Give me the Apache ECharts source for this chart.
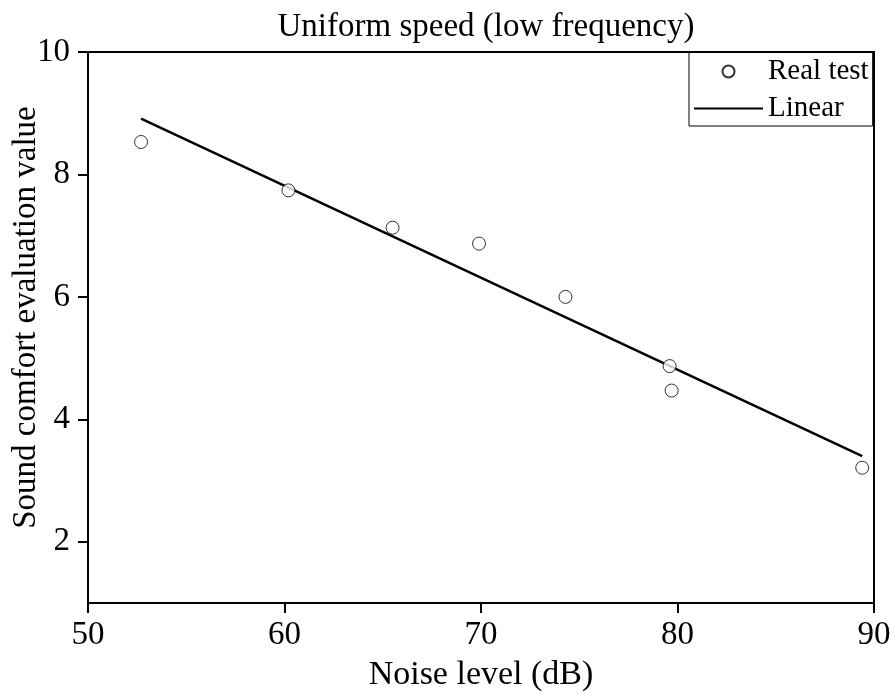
<!DOCTYPE html>
<html>
<head>
<meta charset="utf-8">
<script src="https://cdn.jsdelivr.net/npm/echarts@6/dist/echarts.min.js"></script>
<style>
  html, body { margin: 0; padding: 0; background: #fff; }
  #main { width: 893px; height: 695px; }
</style>
</head>
<body>
<div id="main"></div>
<script>
// measured points (noise level dB, comfort value)
var noiseLevel = [52.7, 60.2, 65.5, 69.9, 74.3, 79.6, 79.7, 89.4];
var comfortValue = [8.53, 7.74, 7.13, 6.87, 6.00, 4.87, 4.47, 3.21];
// fitted line end points
var fitX = [52.7, 89.4];
var fitY = [8.91, 3.40];
var yTicks = [2, 4, 6, 8, 10];

var serif = 'Liberation Serif';
var myChart = echarts.init(document.getElementById('main'));

var realData = noiseLevel.map(function (x, i) { return [x, comfortValue[i]]; });
var fitData = fitX.map(function (x, i) { return [x, fitY[i]]; });

var option = {
    animation: false,
    backgroundColor: '#fff',
    title: {
        text: 'Uniform speed (low frequency)',
        left: 481,
        textAlign: 'center',
        top: 6,
        textStyle: { fontFamily: serif, fontSize: 33, fontWeight: 'normal', color: '#000' }
    },
    legend: {
        orient: 'vertical',
        left: 689,
        top: 52,
        itemWidth: 69,
        itemHeight: 12,
        itemGap: 8,
        padding: [5, 4, 3, 4],
        borderColor: '#000',
        borderWidth: 1,
        textStyle: { fontFamily: serif, fontSize: 29, color: '#000', lineHeight: 29 },
        data: [
            { name: 'Real test' },
            { name: 'Linear', itemStyle: { opacity: 0 } }
        ]
    },
    grid: {
        left: 88,
        right: 19,
        top: 52,
        bottom: 92,
        outerBoundsMode: 'none',
        containLabel: false,
        show: true,
        borderColor: '#000',
        borderWidth: 2
    },
    xAxis: {
        type: 'value',
        min: 50,
        max: 90,
        interval: 10,
        name: 'Noise level (dB)',
        nameLocation: 'middle',
        nameGap: 55,
        nameMoveOverlap: false,
        nameTextStyle: { fontFamily: serif, fontSize: 34, color: '#000' },
        axisLine: { lineStyle: { color: '#000', width: 2 } },
        axisTick: { inside: false, length: 10, lineStyle: { color: '#000', width: 2 } },
        axisLabel: { fontFamily: serif, fontSize: 33, color: '#000', margin: 16 },
        splitLine: { show: false }
    },
    yAxis: {
        type: 'value',
        min: 1,
        max: 10,
        name: 'Sound comfort evaluation value',
        nameLocation: 'middle',
        nameGap: 45,
        nameMoveOverlap: false,
        nameTextStyle: { fontFamily: serif, fontSize: 33, color: '#000', padding: [0, 0, 0, 20] },
        axisLine: { lineStyle: { color: '#000', width: 2 } },
        axisTick: { inside: false, length: 10, customValues: yTicks, lineStyle: { color: '#000', width: 2 } },
        axisLabel: { fontFamily: serif, fontSize: 33, color: '#000', margin: 18, customValues: yTicks },
        splitLine: { show: false }
    },
    series: [
        {
            name: 'Real test',
            type: 'scatter',
            symbol: 'circle',
            symbolSize: 13,
            itemStyle: { color: '#fff', borderColor: '#000', borderWidth: 1 },
            data: realData,
            z: 3
        },
        {
            name: 'Linear',
            type: 'line',
            symbol: 'none',
            showSymbol: false,
            lineStyle: { color: '#000', width: 2.5 },
            itemStyle: { color: '#000' },
            data: fitData,
            z: 2
        }
    ]
};

myChart.setOption(option);
</script>
</body>
</html>
